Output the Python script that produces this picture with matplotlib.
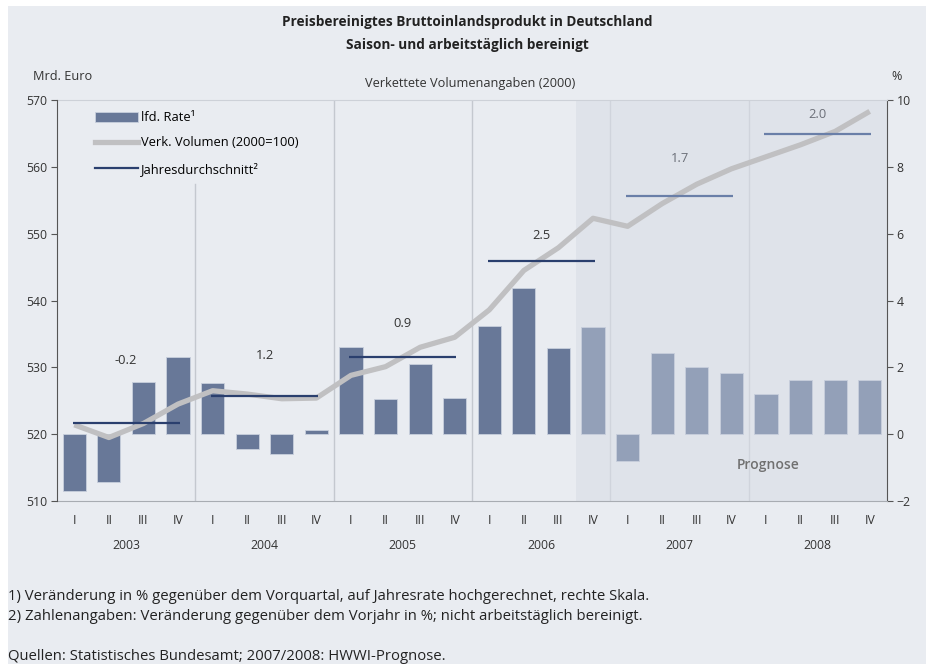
import matplotlib.pyplot as plt
import matplotlib.patches as mpatches
from matplotlib.lines import Line2D
import matplotlib.transforms as mtransforms
import numpy as np

plt.rcParams['font.family'] = ['Open Sans', 'DejaVu Sans']

# Data
quarters = ['I', 'II', 'III', 'IV'] * 6
years = ['2003', '2004', '2005', '2006', '2007', '2008']
# laufende Rate in % (rechte Skala)
rate = [-1.70, -1.43, 1.56, 2.31,
        1.53, -0.44, -0.59, 0.12,
        2.62, 1.05, 2.09, 1.08,
        3.25, 4.37, 2.58, 3.20,
        -0.81, 2.43, 2.02, 1.83,
        1.21, 1.62, 1.62, 1.62]
# Verkettetes Volumen in Mrd. Euro (linke Skala)
volumen = [521.4, 519.5, 521.6, 524.5,
           526.5, 526.0, 525.3, 525.4,
           528.8, 530.1, 533.0, 534.5,
           538.6, 544.5, 547.9, 552.3,
           551.1, 554.5, 557.4, 559.7,
           561.5, 563.3, 565.3, 568.3]
# Jahresdurchschnitt (Niveau in Mrd. Euro) und Veraenderung zum Vorjahr
jahres_niveau = [521.7, 525.7, 531.5, 545.9, 555.6, 564.9]
jahres_label = ['-0.2', '1.2', '0.9', '2.5', '1.7', '2.0']
label_hoehe = [531.0, 531.8, 536.6, 549.7, 561.3, 567.9]
n_ist = 15  # Quartale mit Istwerten (bis 2006 III)

bg = '#e9ecf1'
shade = '#dfe3ea'
bar_dark = '#687898'
bar_light = '#93a0b8'
navy = '#2a3f6e'
navy_light = '#6a7fa8'
grey_line = '#c0c0c2'

fig = plt.figure(figsize=(9.33, 6.64), dpi=100, facecolor='white')
fig.patches.append(mpatches.Rectangle((8 / 933, 0), 918 / 933, 658 / 664,
                                      transform=fig.transFigure,
                                      facecolor=bg, edgecolor='none', zorder=-10))

ax2 = fig.add_axes([57 / 933, 163 / 664, 830 / 933, 401 / 664])
ax = ax2.twinx()
ax.yaxis.tick_left()
ax.yaxis.set_label_position('left')
ax2.yaxis.tick_right()
ax.set_zorder(ax2.get_zorder() + 1)
ax.patch.set_visible(False)
ax2.set_facecolor(bg)

x = np.arange(len(rate))
ax2.set_xlim(-0.5, len(rate) - 0.5)
ax2.set_ylim(-2, 10)
ax.set_ylim(510, 570)

# Prognose-Bereich
ax2.axvspan(n_ist - 0.5, len(rate) - 0.5, color=shade, zorder=0, lw=0)

# Jahrestrenner
for k in range(1, len(years)):
    xs = 4 * k - 0.5
    col = '#d0d4dc' if xs > n_ist else '#c4c8cf'
    top = 0.79 if k == 1 else 1.0
    ax2.axvline(xs, ymin=0, ymax=top, color=col, lw=1, zorder=1)

colors = [bar_dark if i < n_ist else bar_light for i in x]
ax2.bar(x, rate, width=0.67, color=colors, edgecolor='#c8cfdc', linewidth=0.6, zorder=2)

ax.plot(x, volumen, color=grey_line, lw=3.8, solid_capstyle='butt', zorder=3)

for k, lev in enumerate(jahres_niveau):
    c = navy if 4 * k + 3 < n_ist + 1 else navy_light
    ax.hlines(lev, 4 * k - 0.05, 4 * k + 3.05, color=c, lw=1.6, zorder=4)
    ax.text(4 * k + 1.5, label_hoehe[k], jahres_label[k], ha='center', va='center',
            fontsize=9.3, color='#333333' if k < 4 else '#6b6f78', zorder=5)

ax2.text(20.05, -0.92, 'Prognose', ha='center', va='center', fontsize=10,
         color='#707070', fontweight='semibold')

# Achsen
for a in (ax, ax2):
    for s in a.spines.values():
        s.set_visible(False)
ax.spines['left'].set_visible(True)
ax.spines['left'].set_color('#555555')
ax2.spines['right'].set_visible(True)
ax2.spines['right'].set_color('#555555')
ax2.spines['bottom'].set_visible(True)
ax2.spines['bottom'].set_color('#a8acb2')
ax2.spines['top'].set_visible(True)
ax2.spines['top'].set_color('#cdd1d8')

ax.set_yticks(np.arange(510, 571, 10))
ax2.set_yticks(np.arange(-2, 11, 2))
ax.tick_params(axis='y', direction='out', length=4, color='#555555',
               labelsize=8.8, labelcolor='#333333', pad=3)
ax2.tick_params(axis='y', direction='out', length=4, color='#555555',
                labelsize=8.8, labelcolor='#333333', pad=3)
ax2.set_xticks(x)
ax2.set_xticklabels(quarters)
ax2.tick_params(axis='x', length=0, labelsize=8.8, labelcolor='#333333', pad=9)
ax.tick_params(axis='x', length=0, labelbottom=False)

trans = mtransforms.blended_transform_factory(ax2.transData, ax2.transAxes)
for k, yr in enumerate(years):
    ax2.text(4 * k + 1.5, -0.112, yr, transform=trans, ha='center', va='center',
             fontsize=8.8, color='#333333')

# Legende
handles = [mpatches.Patch(facecolor=bar_dark, edgecolor='#c8cfdc', linewidth=0.6),
           Line2D([0], [0], color=grey_line, lw=3.8),
           Line2D([0], [0], color=navy, lw=1.6)]
labels = ['lfd. Rate¹', 'Verk. Volumen (2000=100)', 'Jahresdurchschnitt²']
ax.legend(handles, labels, loc='upper left', bbox_to_anchor=(0.040, 0.985),
          frameon=False, fontsize=9.3, handlelength=3.3, handleheight=0.85,
          handletextpad=0.25, labelspacing=0.95, borderaxespad=0)

# Texte
fig.text(467 / 933, 1 - 22 / 664, 'Preisbereinigtes Bruttoinlandsprodukt in Deutschland',
         ha='center', va='center', fontsize=9.8, fontweight='bold', color='#222222')
fig.text(467 / 933, 1 - 45 / 664, 'Saison- und arbeitstäglich bereinigt',
         ha='center', va='center', fontsize=9.8, fontweight='bold', color='#222222')
fig.text(33 / 933, 1 - 77 / 664, 'Mrd. Euro', ha='left', va='center', fontsize=9.2, color='#333333')
fig.text(897 / 933, 1 - 76 / 664, '%', ha='center', va='center', fontsize=9, color='#333333')
fig.text(470 / 933, 1 - 84 / 664, 'Verkettete Volumenangaben (2000)', ha='center',
         va='center', fontsize=9.2, color='#333333')

fig.text(8 / 933, 1 - 596 / 664,
         '1) Veränderung in % gegenüber dem Vorquartal, auf Jahresrate hochgerechnet, rechte Skala.',
         ha='left', va='center', fontsize=10.7, color='#222222')
fig.text(8 / 933, 1 - 616 / 664,
         '2) Zahlenangaben: Veränderung gegenüber dem Vorjahr in %; nicht arbeitstäglich bereinigt.',
         ha='left', va='center', fontsize=10.7, color='#222222')
fig.text(8 / 933, 1 - 656 / 664, 'Quellen: Statistisches Bundesamt; 2007/2008: HWWI-Prognose.',
         ha='left', va='center', fontsize=10.7, color='#222222')

fig.savefig('out.png', dpi=100, facecolor=fig.get_facecolor())
